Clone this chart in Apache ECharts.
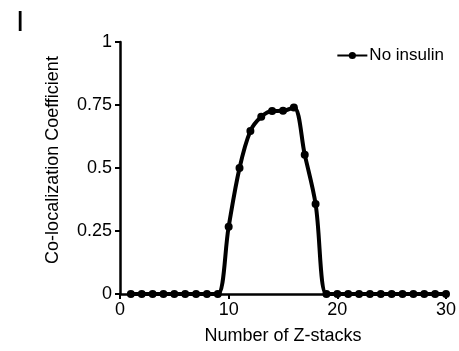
<!DOCTYPE html>
<html>
<head>
<meta charset="utf-8">
<script src="https://cdn.jsdelivr.net/npm/echarts@6/dist/echarts.min.js"></script>
<style>
  html, body { margin: 0; padding: 0; background: #fff; }
  #chart { width: 459px; height: 351px; }
</style>
</head>
<body>
<div id="chart"></div>
<script>
    // Z-stack index and co-localization coefficient (No insulin)
    var zStacks = [1, 2, 3, 4, 5, 6, 7, 8, 9, 10, 11, 12, 13, 14, 15, 16, 17, 18, 19,
        20, 21, 22, 23, 24, 25, 26, 27, 28, 29, 30];
    var noInsulin = [0, 0, 0, 0, 0, 0, 0, 0, 0, 0.267, 0.5, 0.647, 0.703, 0.726, 0.727, 0.74, 0.553, 0.357, 0,
        0, 0, 0, 0, 0, 0, 0, 0, 0, 0, 0];
    var yTicks = [0, 0.25, 0.5, 0.75, 1];

    var chart = echarts.init(document.getElementById('chart'), null, {renderer: 'canvas'});
    var font = 'Liberation Sans, Arial, sans-serif';

    var option = {
        backgroundColor: '#fff',
        animation: false,
        textStyle: {fontFamily: font},
        grid: {left: 120, right: 11, top: 42, bottom: 57},
        legend: {
            data: ['No insulin'],
            right: 10,
            top: 42,
            itemWidth: 30,
            itemHeight: 9,
            itemGap: 2,
            textStyle: {color: '#000', fontSize: 17, fontFamily: font, padding: [0, 0, 0, -3]}
        },
        graphic: [{
            type: 'text',
            left: 16,
            top: 8,
            style: {text: 'I', font: '30px Liberation Sans, Arial', fill: '#000'}
        }],
        xAxis: {
            type: 'value',
            min: 0,
            max: 30,
            interval: 10,
            name: 'Number of Z-stacks',
            nameLocation: 'middle',
            nameGap: 33,
            nameTextStyle: {color: '#000', fontSize: 18, fontFamily: font},
            axisLine: {lineStyle: {color: '#000', width: 2.5}},
            axisTick: {show: true, length: 5, lineStyle: {color: '#000', width: 2}},
            axisLabel: {color: '#000', fontSize: 18, margin: 7, fontFamily: font},
            splitLine: {show: false}
        },
        yAxis: {
            type: 'value',
            min: 0,
            max: 1,
            interval: 0.25,
            name: 'Co-localization Coefficient',
            nameLocation: 'middle',
            nameGap: 58,
            nameTextStyle: {color: '#000', fontSize: 18, fontFamily: font, padding: [0, 0, 0, 16]},
            axisLine: {show: true, lineStyle: {color: '#000', width: 2.5}},
            axisTick: {show: true, length: 5, lineStyle: {color: '#000', width: 2}},
            axisLabel: {
                color: '#000', fontSize: 18, margin: 8, fontFamily: font,
                formatter: function (v) {
                    return yTicks.indexOf(v) >= 0 ? String(v) : '';
                }
            },
            splitLine: {show: false}
        },
        series: [{
            name: 'No insulin',
            type: 'line',
            data: zStacks.map(function (z, i) { return [z, noInsulin[i]]; }),
            smooth: 0.35,
            symbol: 'circle',
            symbolSize: 8,
            clip: true,
            itemStyle: {color: '#000'},
            lineStyle: {color: '#000', width: 4}
        }]
    };
    chart.setOption(option);
</script>
</body>
</html>
